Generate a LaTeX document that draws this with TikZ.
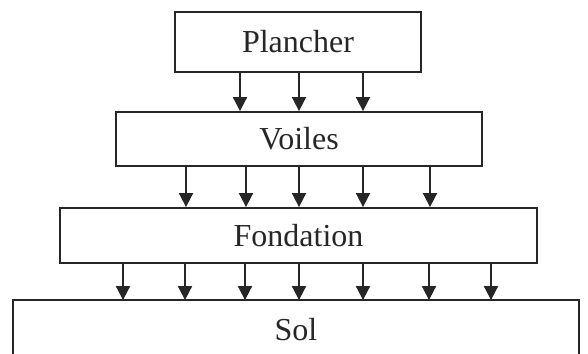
\documentclass[tikz,border=0pt]{standalone}
\usepackage{fontspec}
\setmainfont{Liberation Serif}
\usetikzlibrary{arrows.meta}
\begin{document}
\begin{tikzpicture}[x=1pt,y=-1pt,
  box/.style={draw=black!85, line width=1.8pt, rectangle, inner sep=0pt, text=black!85, font=\fontsize{32}{36}\selectfont},
  arr/.style={draw=black!85, fill=black!85, line width=1.8pt, -{Triangle[width=14pt,length=14pt]}}]
\useasboundingbox (0,0) rectangle (588,353);
\clip (0,0) rectangle (588,353);
\node[box, minimum width=246pt, minimum height=60pt] (plancher) at (298,42) {Plancher};
\node[box, minimum width=366pt, minimum height=54pt] (voiles) at (299,139) {Voiles};
\node[box, minimum width=477pt, minimum height=55pt] (fondation) at (298.5,235.5) {Fondation};
\node[box, draw=none, minimum width=564pt, minimum height=58pt] (sol) at (296,330) {Sol};
\draw[line width=1.8pt, black!85] (sol.south west) -- (sol.north west) -- (sol.north east) -- (sol.south east);
\foreach \x in {240,299,363}
  \draw[arr] (\x,0 |- plancher.south) -- (\x,0 |- voiles.north);
\foreach \x in {186,246,299,363,430}
  \draw[arr] (\x,0 |- voiles.south) -- (\x,0 |- fondation.north);
\foreach \x in {123,185,245,299,363,429,491}
  \draw[arr] (\x,0 |- fondation.south) -- (\x,0 |- sol.north);
\end{tikzpicture}
\end{document}
